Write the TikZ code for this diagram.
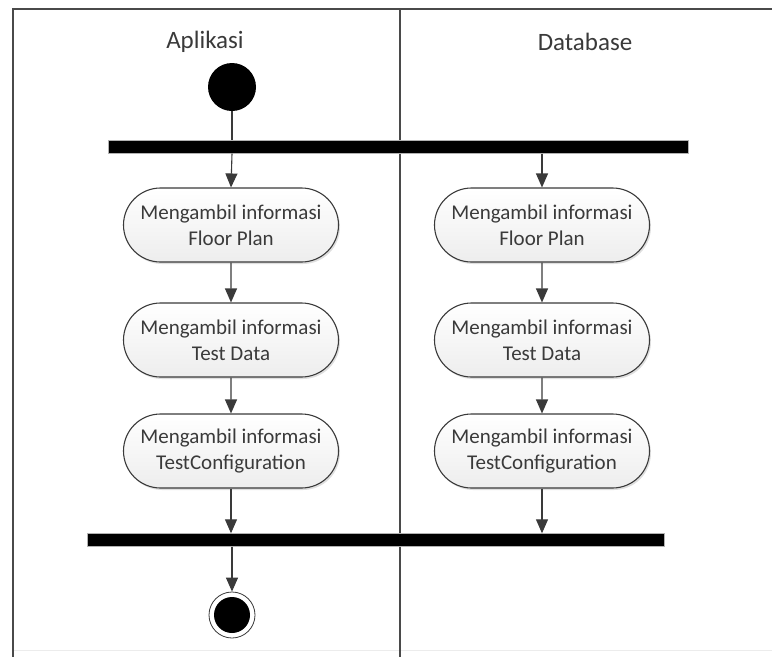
\documentclass[tikz,border=0pt]{standalone}
\usepackage{fontspec}
\setmainfont{Carlito}
\usetikzlibrary{arrows.meta,shapes.misc,shadows}
\definecolor{ink}{HTML}{3A3A3A}
\definecolor{frame}{HTML}{4A4A4A}
\tikzset{
  action/.style={rounded rectangle, draw=ink, line width=1.1pt,
    top color=white, bottom color=gray!14,
    drop shadow={shadow xshift=1.5pt, shadow yshift=-2pt, opacity=0.25},
    minimum width=215pt, minimum height=74pt, inner sep=0pt,
    align=center, text=ink, font=\fontsize{21}{26}\selectfont},
  syncbar/.style={rectangle, fill=black, draw=gray!60, line width=0.4pt,
    minimum height=13pt, inner sep=0pt},
  flow/.style={draw=ink, line width=1.1pt,
    -{Triangle[length=14pt,width=12pt,fill=ink]}},
  plainflow/.style={draw=ink, line width=1.1pt},
  lane/.style={text=ink, font=\fontsize{25}{30}\selectfont}
}
\begin{document}
\begin{tikzpicture}[x=1pt,y=-1pt]
\useasboundingbox (0,0) rectangle (772,657);
% swimlane frame
\draw[gray!15, line width=1pt] (13,650) -- (772,650);
\draw[frame, line width=2pt] (772,9) -- (13,9) -- (13,657);
\draw[frame, line width=1.6pt] (400,9) -- (400,657);
% lane titles
\node[lane] (laneA) at (205,42) {Aplikasi};
\node[lane] (laneB) at (585,42) {Database};
% start node and fork
\node[circle, fill=black, minimum size=48pt, inner sep=0pt] (start) at (232,87) {};
\node[syncbar, minimum width=580pt] (fork) at (398,147) {};
% actions
\node[action] (a1) at (231,225) {Mengambil informasi\\Floor Plan};
\node[action] (a2) at (231,340) {Mengambil informasi\\Test Data};
\node[action] (a3) at (231,451) {Mengambil informasi\\TestConfiguration};
\node[action] (b1) at (542,225) {Mengambil informasi\\Floor Plan};
\node[action] (b2) at (542,340) {Mengambil informasi\\Test Data};
\node[action] (b3) at (542,451) {Mengambil informasi\\TestConfiguration};
% join and final node
\node[syncbar, minimum width=577pt] (join) at (376,540) {};
\node[circle, draw=ink, line width=0.8pt, fill=white, minimum size=46pt, inner sep=0pt] (final) at (232,615) {};
\node[circle, fill=black, minimum size=36pt, inner sep=0pt] (finalcore) at (final) {};
% connectors
\draw[plainflow] (start) -- (start |- fork.north);
\draw[flow] (start |- fork.south) -- (a1.north);
\draw[flow] (b1 |- fork.south) -- (b1.north);
\draw[flow] (a1) -- (a2);
\draw[flow] (a2) -- (a3);
\draw[flow] (b1) -- (b2);
\draw[flow] (b2) -- (b3);
\draw[flow] (a3.south) -- (a3.south |- join.north);
\draw[flow] (b3.south) -- (b3.south |- join.north);
\draw[flow] (final |- join.south) -- (final.north);
\end{tikzpicture}
\end{document}
